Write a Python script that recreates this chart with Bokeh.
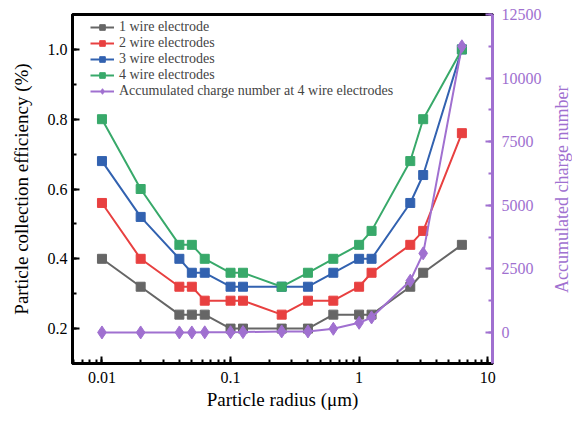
from bokeh.plotting import figure
from bokeh.layouts import row
from bokeh.models import (LinearAxis, Range1d, Legend, LegendItem, Div,
                          LogTicker, SingleIntervalTicker, PrintfTickFormatter)
from bokeh.embed import file_html
from bokeh.resources import INLINE

# ---- data ----
radius = [0.01, 0.02, 0.04, 0.05, 0.063, 0.1, 0.125, 0.25, 0.4, 0.63, 1.0, 1.25, 2.5, 3.15, 6.3]
eff_1 = [0.40, 0.32, 0.24, 0.24, 0.24, 0.20, 0.20, 0.20, 0.20, 0.24, 0.24, 0.24, 0.32, 0.36, 0.44]
eff_2 = [0.56, 0.40, 0.32, 0.32, 0.28, 0.28, 0.28, 0.24, 0.28, 0.28, 0.32, 0.36, 0.44, 0.48, 0.76]
eff_3 = [0.68, 0.52, 0.40, 0.36, 0.36, 0.32, 0.32, 0.32, 0.32, 0.36, 0.40, 0.40, 0.56, 0.64, 1.00]
eff_4 = [0.80, 0.60, 0.44, 0.44, 0.40, 0.36, 0.36, 0.32, 0.36, 0.40, 0.44, 0.48, 0.68, 0.80, 1.00]
charge = [0, 0, 0, 0, 5, 10, 15, 40, 40, 145, 380, 590, 2035, 3110, 11250]

labels = ["1 wire electrode", "2 wire electrodes", "3 wire electrodes",
          "4 wire electrodes", "Accumulated charge number at 4 wire electrodes"]
right_title = "Accumulated charge number"
colors = ["#666666", "#E84040", "#3262B0", "#38A96A", "#A070D0"]

FONT = "Liberation Serif"

p = figure(width=553, height=425, x_axis_type="log",
           x_range=Range1d(0.0059, 10.9), y_range=Range1d(0.1, 1.1),
           output_backend="svg", toolbar_location=None,
           min_border_left=72, min_border_right=61, min_border_top=14, min_border_bottom=62)
p.extra_y_ranges = {"charge": Range1d(-1220, 12500)}
p.xgrid.visible = False
p.ygrid.visible = False
p.outline_line_color = "black"
p.outline_line_width = 3

xa = p.xaxis[0]
xa.ticker = LogTicker(num_minor_ticks=10)
xa.major_label_overrides = {0.01: "0.01", 0.1: "0.1", 1: "1", 10: "10"}
ya = p.yaxis[0]
ya.ticker = SingleIntervalTicker(interval=0.2, num_minor_ticks=2)
ya.formatter = PrintfTickFormatter(format="%.1f")
xa.axis_label = "Particle radius (\u03bcm)"
ya.axis_label = "Particle collection efficiency (%)"


def style(ax, color):
    ax.axis_line_width = 3
    ax.axis_line_color = color
    ax.major_tick_line_color = color
    ax.minor_tick_line_color = color
    ax.major_tick_in = 7
    ax.major_tick_out = 0
    ax.minor_tick_in = 4
    ax.minor_tick_out = 0
    ax.major_tick_line_width = 2
    ax.minor_tick_line_width = 2
    ax.major_label_text_font = FONT
    ax.major_label_text_font_size = "16px"
    ax.major_label_text_color = color
    ax.axis_label_text_font = FONT
    ax.axis_label_text_font_size = "19px"
    ax.axis_label_text_font_style = "normal"
    ax.axis_label_text_color = color


style(xa, "black")
style(ya, "black")
ya.major_label_standoff = 5
ya.axis_label_standoff = 13
xa.major_label_standoff = 8
xa.axis_label_standoff = 3

ra = LinearAxis(y_range_name="charge",
                ticker=SingleIntervalTicker(interval=2500, num_minor_ticks=2))
style(ra, colors[4])
ra.major_label_standoff = 9
p.add_layout(ra, "right")

items = []
for ys, c, lab in zip([eff_1, eff_2, eff_3, eff_4], colors[:4], labels[:4]):
    l = p.line(radius, ys, line_color=c, line_width=2)
    s = p.scatter(radius, ys, marker="square", size=9, fill_color=c, line_color=c)
    items.append(LegendItem(label=lab, renderers=[l, s]))

l = p.line(radius, charge, line_color=colors[4], line_width=2, y_range_name="charge")
s = p.scatter(radius, charge, marker="diamond", size=13, fill_color=colors[4],
              line_color=colors[4], y_range_name="charge")
items.append(LegendItem(label=labels[4], renderers=[l, s]))

legend = Legend(items=items, location=(18, 264), padding=3, spacing=0,
                label_text_font=FONT, label_text_font_size="14px",
                glyph_width=24, glyph_height=14, label_height=14,
                label_standoff=5, border_line_color=None,
                background_fill_alpha=0)
p.add_layout(legend, "center")

# right-hand axis title (reads bottom-to-top)
title_div = Div(text=right_title, width=18, height=379, margin=(0, 0, 0, 0),
                styles={"writing-mode": "vertical-rl", "transform": "rotate(180deg)",
                        "display": "flex", "align-items": "center",
                        "justify-content": "center", "white-space": "nowrap",
                        "font-family": FONT, "font-size": "18px",
                        "color": colors[4], "line-height": "1"})

layout = row(p, title_div)
open("out.html", "w").write(file_html(layout, INLINE))
